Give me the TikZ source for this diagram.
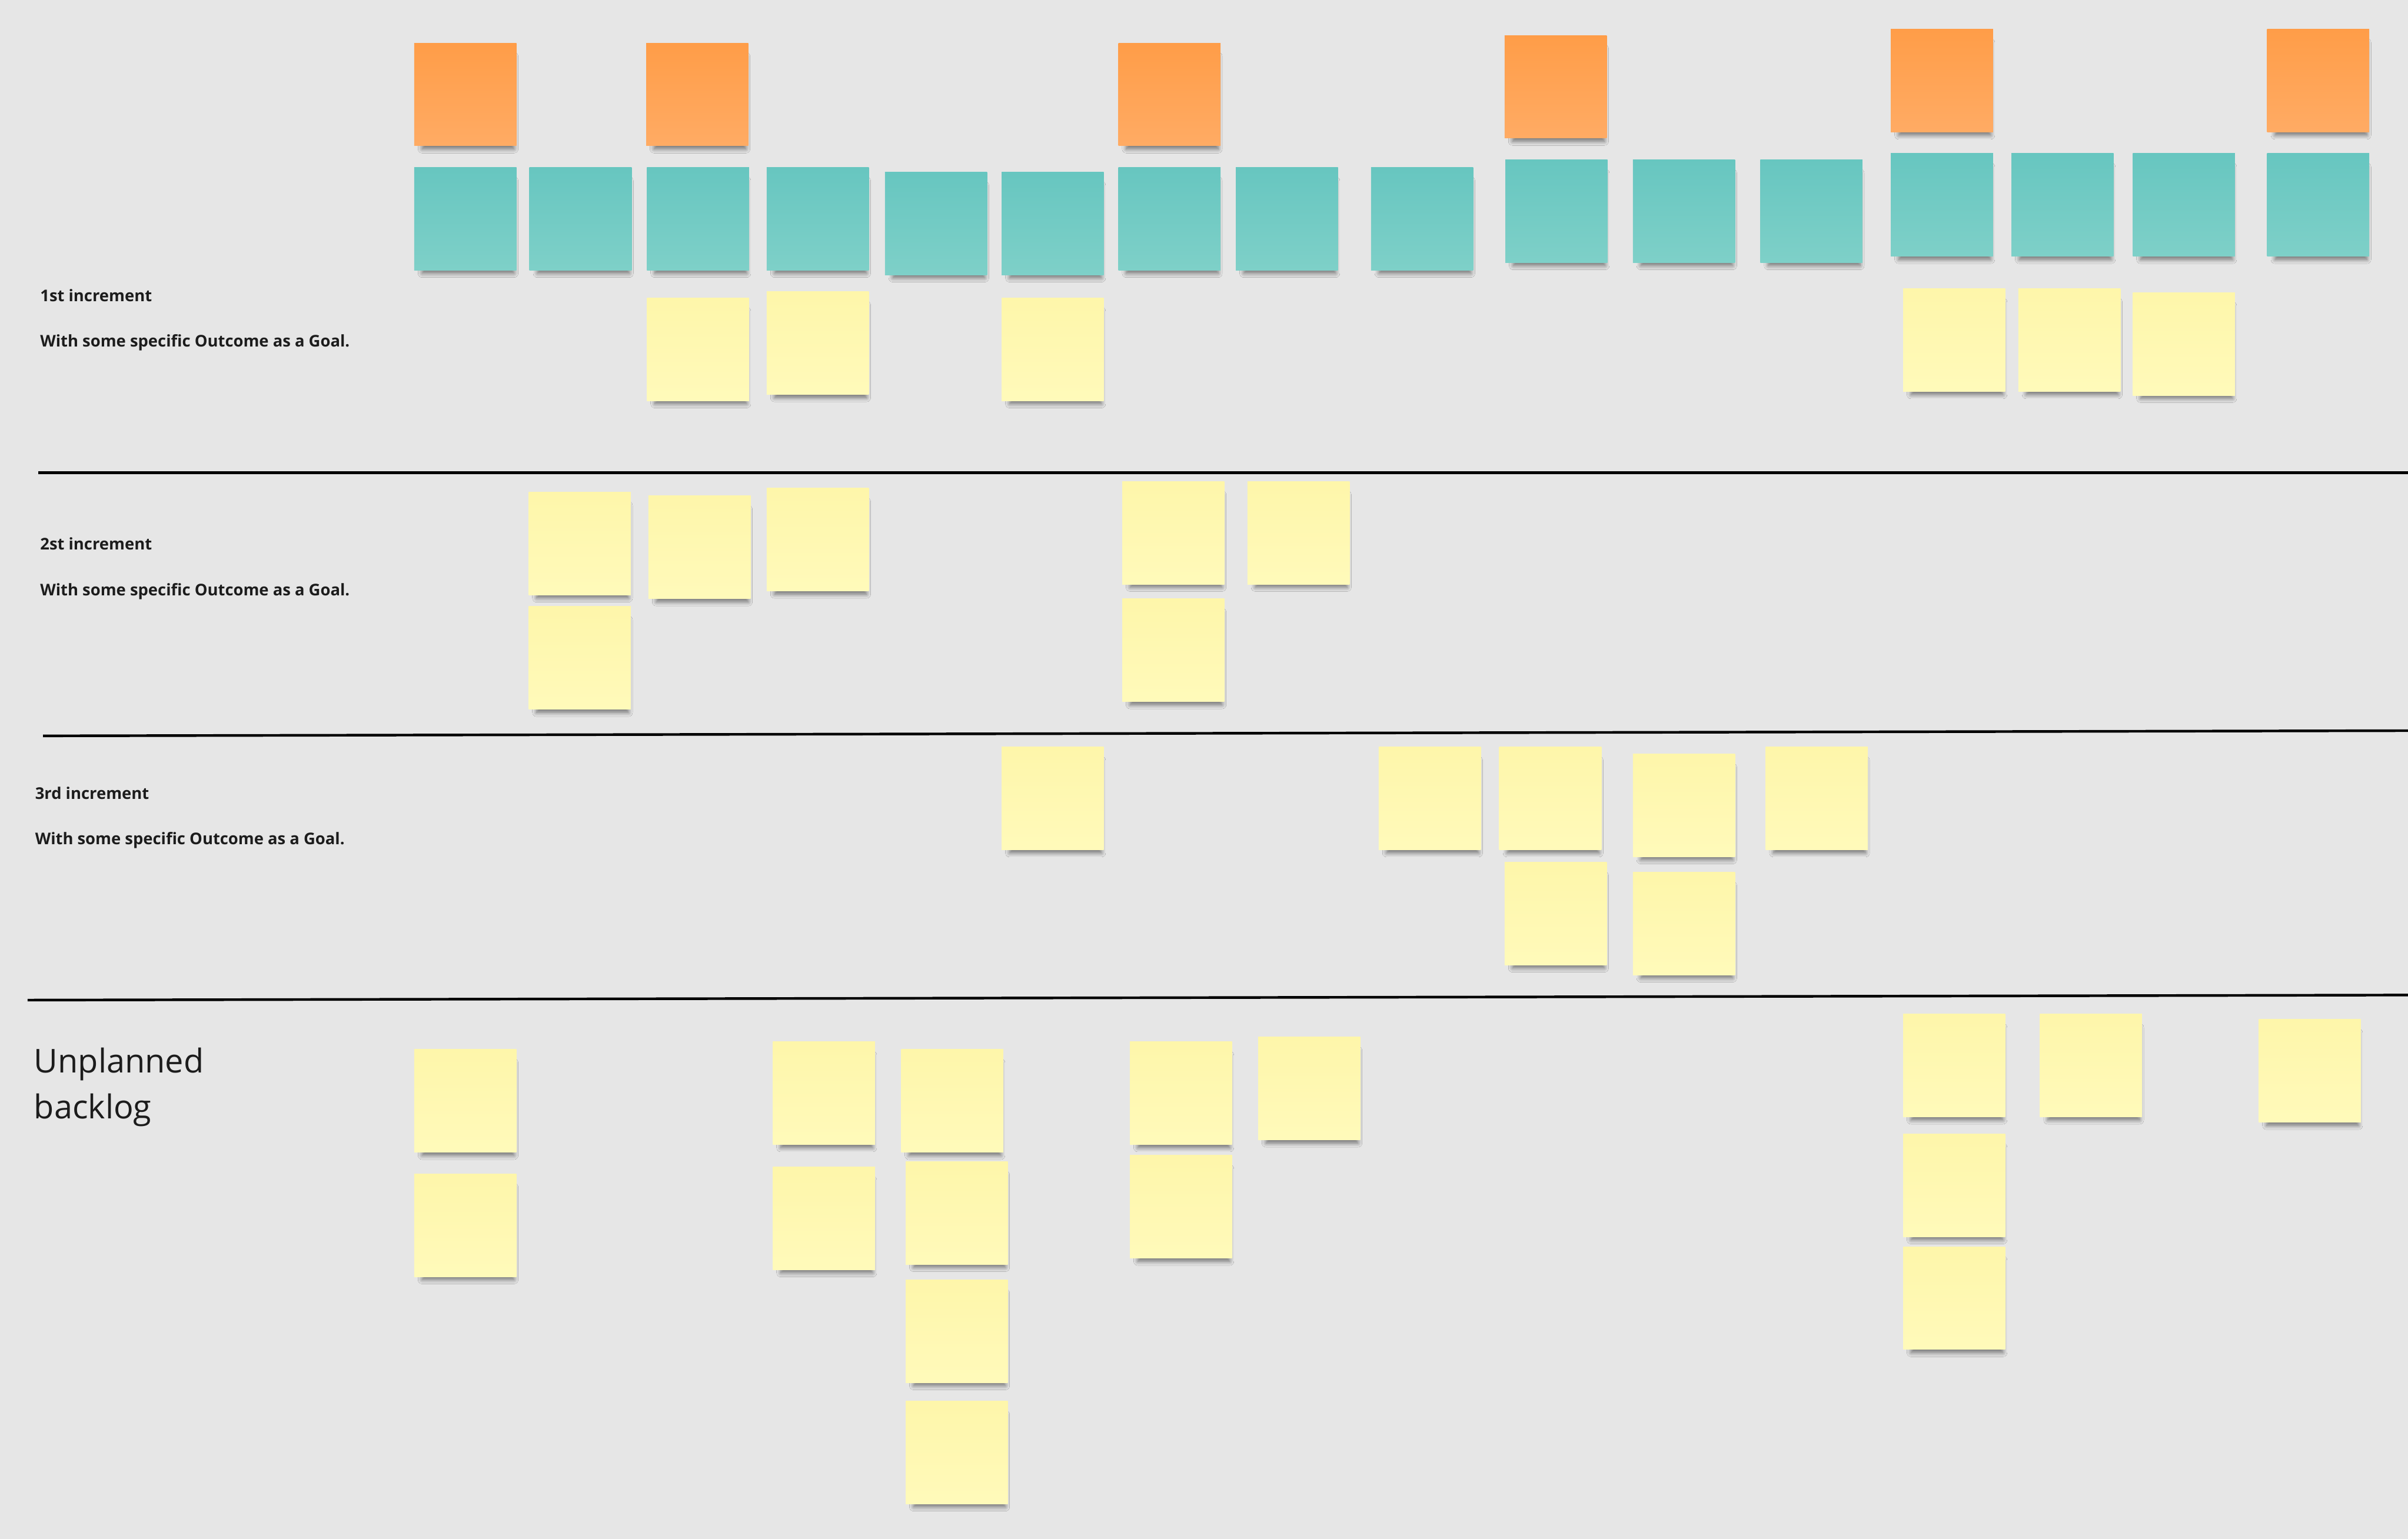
\documentclass[tikz,border=0pt]{standalone}
\usepackage{xcolor}
\usepackage{fontspec}
\setmainfont{Open Sans}
\usepackage{tikz}
\usetikzlibrary{shadows.blur}
\definecolor{mybg}{RGB}{230,230,230}
\definecolor{mydark}{RGB}{28,28,28}
\definecolor{orangetop}{RGB}{255,157,72}
\definecolor{orangebot}{RGB}{255,171,100}
\definecolor{tealtop}{RGB}{103,198,192}
\definecolor{tealbot}{RGB}{126,208,200}
\definecolor{yellowtop}{RGB}{254,246,170}
\definecolor{yellowbot}{RGB}{255,250,186}
\tikzset{
  note/.style={rectangle, minimum width=66.5pt, minimum height=67pt, inner sep=0pt,
    blur shadow={shadow xshift=2pt, shadow yshift=-6pt, shadow scale=0.9, shadow opacity=50, shadow blur radius=3pt, shadow blur steps=8}},
  orangenote/.style={note, top color=orangetop, bottom color=orangebot},
  tealnote/.style={note, top color=tealtop, bottom color=tealbot},
  yellownote/.style={note, top color=yellowtop, bottom color=yellowbot},
  rowtext/.style={anchor=base west, inner sep=0pt, text=mydark, font=\fontsize{10.5}{12}\selectfont\bfseries},
  bigtext/.style={anchor=base west, inner sep=0pt, text=mydark, align=left, font=\fontsize{21.4}{30}\selectfont},
  sepline/.style={line width=1.7pt, color=black}
}
\begin{document}
\begin{tikzpicture}[x=1pt, y=-1pt]
  % Board
  \fill[mybg] (0,0) rectangle (1568,1002.4);
  \useasboundingbox (0,0) rectangle (1568,1002.4);

  % Separators
  \draw[sepline] (25,307.9) -- (1568,307.9);
  \draw[sepline] (28,479.3) -- (1568,475.9);
  \draw[sepline] (18,651.4) -- (1568,648.1);

  % Row texts
  \node[rowtext] (inc1) at (26,196.2) {1st increment};
  \node[rowtext] (goal1) at (26,226) {With some specific Outcome as a Goal.};
  \node[rowtext] (inc2) at (26,358.2) {2st increment};
  \node[rowtext] (goal2) at (26,388) {With some specific Outcome as a Goal.};
  \node[rowtext] (inc3) at (22.7,520.4) {3rd increment};
  \node[rowtext] (goal3) at (22.7,550) {With some specific Outcome as a Goal.};
  \node[bigtext] (backlog) at (22,728.7) {Unplanned\\backlog};

  % Orange notes
  \node[orangenote] (o1) at (303,61.5) {};
  \node[orangenote] (o2) at (454,61.5) {};
  \node[orangenote] (o3) at (761.5,61.5) {};
  \node[orangenote] (o4) at (1013,56.5) {};
  \node[orangenote] (o5) at (1264.5,52.5) {};
  \node[orangenote] (o6) at (1509.5,52.5) {};

  % Teal notes
  \node[tealnote] (t1) at (303,142.5) {};
  \node[tealnote] (t2) at (378,142.5) {};
  \node[tealnote] (t3) at (454.5,142.5) {};
  \node[tealnote] (t4) at (532.5,142.5) {};
  \node[tealnote] (t5) at (609.5,145.5) {};
  \node[tealnote] (t6) at (685.5,145.5) {};
  \node[tealnote] (t7) at (761.5,142.5) {};
  \node[tealnote] (t8) at (838,142.5) {};
  \node[tealnote] (t9) at (926,142.5) {};
  \node[tealnote] (t10) at (1013.5,137.5) {};
  \node[tealnote] (t11) at (1096.5,137.5) {};
  \node[tealnote] (t12) at (1179.5,137.5) {};
  \node[tealnote] (t13) at (1264.5,133.5) {};
  \node[tealnote] (t14) at (1343,133.5) {};
  \node[tealnote] (t15) at (1422,133.5) {};
  \node[tealnote] (t16) at (1509.5,133.5) {};

  % 1st increment
  \node[yellownote] (a1) at (454.5,227.5) {};
  \node[yellownote] (a2) at (532.5,223.5) {};
  \node[yellownote] (a3) at (685.5,227.5) {};
  \node[yellownote] (a4) at (1272.5,221.5) {};
  \node[yellownote] (a5) at (1347.5,221.5) {};
  \node[yellownote] (a6) at (1422,224) {};

  % 2nd increment
  \node[yellownote] (b1) at (377.5,354) {};
  \node[yellownote] (b2) at (455.5,356.5) {};
  \node[yellownote] (b3) at (532.5,351.5) {};
  \node[yellownote] (b4) at (377.5,428.5) {};
  \node[yellownote] (b5) at (764,347) {};
  \node[yellownote] (b6) at (845.5,347) {};
  \node[yellownote] (b7) at (764,423.5) {};

  % 3rd increment
  \node[yellownote] (c1) at (685.5,520) {};
  \node[yellownote] (c2) at (931,520) {};
  \node[yellownote] (c3) at (1009.5,520) {};
  \node[yellownote] (c4) at (1096.5,524.5) {};
  \node[yellownote] (c5) at (1183,520) {};
  \node[yellownote] (c6) at (1013,595) {};
  \node[yellownote] (c7) at (1096.5,601.5) {};

  % Unplanned backlog
  \node[yellownote] (d1) at (303,717) {};
  \node[yellownote] (d2) at (303,798) {};
  \node[yellownote] (d3) at (536.5,712) {};
  \node[yellownote] (d4) at (620,717) {};
  \node[yellownote] (d5) at (536.5,793.5) {};
  \node[yellownote] (d6) at (623,790) {};
  \node[yellownote] (d7) at (623,867) {};
  \node[yellownote] (d8) at (623,946) {};
  \node[yellownote] (d9) at (769,712) {};
  \node[yellownote] (d10) at (852.5,709) {};
  \node[yellownote] (d11) at (769,786) {};
  \node[yellownote] (d12) at (1272.5,694) {};
  \node[yellownote] (d13) at (1361.5,694) {};
  \node[yellownote] (d14) at (1504,697.5) {};
  \node[yellownote] (d15) at (1272.5,772) {};
  \node[yellownote] (d16) at (1272.5,845.5) {};
\end{tikzpicture}
\end{document}
